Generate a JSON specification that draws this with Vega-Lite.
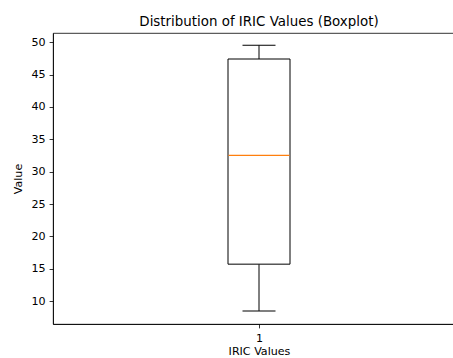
{
  "$schema": "https://vega.github.io/schema/vega-lite/v6.json",
  "width": 412,
  "height": 291,
  "autosize": {"type": "none"},
  "padding": {"left": 53, "top": 33, "right": 0, "bottom": 34},
  "background": "white",
  "title": {
    "text": "Distribution of IRIC Values (Boxplot)",
    "font": "DejaVu Sans",
    "fontSize": 13.4,
    "fontWeight": "normal",
    "color": "#000000",
    "anchor": "middle",
    "baseline": "alphabetic",
    "offset": -6
  },
  "config": {
    "view": {"stroke": "#000000", "strokeWidth": 0.8},
    "axis": {
      "grid": false,
      "domainColor": "#000000",
      "domainWidth": 0.8,
      "tickColor": "#000000",
      "tickWidth": 0.8,
      "tickSize": 3.9,
      "labelColor": "#000000",
      "titleColor": "#000000",
      "labelFont": "DejaVu Sans",
      "titleFont": "DejaVu Sans",
      "labelFontSize": 11.1,
      "titleFontSize": 11.1,
      "titleFontWeight": "normal",
      "labelOverlap": false
    }
  },
  "data": {
    "values": [
      {"group": 1, "lower": 8.47, "q1": 15.7, "median": 32.53, "q3": 47.42, "upper": 49.54}
    ]
  },
  "encoding": {
    "x": {
      "field": "group",
      "type": "quantitative",
      "scale": {"domain": [0.5, 1.5], "nice": false, "zero": false},
      "axis": {"title": "IRIC Values", "values": [1], "format": "d", "labelPadding": 4.5, "titlePadding": 2}
    }
  },
  "layer": [
    {
      "mark": {"type": "rule", "color": "#000000", "strokeWidth": 1},
      "encoding": {
        "y": {
          "field": "lower",
          "type": "quantitative",
          "scale": {"domain": [6.45, 51.44], "nice": false, "zero": false},
          "axis": {"title": "Value", "values": [10, 15, 20, 25, 30, 35, 40, 45, 50], "labelPadding": 4, "titlePadding": 7, "labelOverlap": false}
        },
        "y2": {"field": "q1"}
      }
    },
    {
      "mark": {"type": "rule", "color": "#000000", "strokeWidth": 1},
      "encoding": {
        "y": {"field": "q3", "type": "quantitative", "axis": {"title": "Value", "values": [10, 15, 20, 25, 30, 35, 40, 45, 50], "labelPadding": 4, "titlePadding": 7, "labelOverlap": false}},
        "y2": {"field": "upper"}
      }
    },
    {
      "mark": {"type": "bar", "size": 62, "fill": "#ffffff", "stroke": "#000000", "strokeWidth": 1, "opacity": 1},
      "encoding": {
        "y": {"field": "q1", "type": "quantitative", "axis": {"title": "Value", "values": [10, 15, 20, 25, 30, 35, 40, 45, 50], "labelPadding": 4, "titlePadding": 7, "labelOverlap": false}},
        "y2": {"field": "q3"}
      }
    },
    {
      "mark": {"type": "tick", "orient": "horizontal", "size": 33, "thickness": 1, "color": "#000000", "opacity": 1},
      "encoding": {
        "y": {"field": "lower", "type": "quantitative", "axis": {"title": "Value", "values": [10, 15, 20, 25, 30, 35, 40, 45, 50], "labelPadding": 4, "titlePadding": 7, "labelOverlap": false}}
      }
    },
    {
      "mark": {"type": "tick", "orient": "horizontal", "size": 33, "thickness": 1, "color": "#000000", "opacity": 1},
      "encoding": {
        "y": {"field": "upper", "type": "quantitative", "axis": {"title": "Value", "values": [10, 15, 20, 25, 30, 35, 40, 45, 50], "labelPadding": 4, "titlePadding": 7, "labelOverlap": false}}
      }
    },
    {
      "mark": {"type": "tick", "orient": "horizontal", "size": 61, "thickness": 1.2, "color": "#ff7f0e", "opacity": 1},
      "encoding": {
        "y": {"field": "median", "type": "quantitative", "axis": {"title": "Value", "values": [10, 15, 20, 25, 30, 35, 40, 45, 50], "labelPadding": 4, "titlePadding": 7, "labelOverlap": false}}
      }
    }
  ]
}
